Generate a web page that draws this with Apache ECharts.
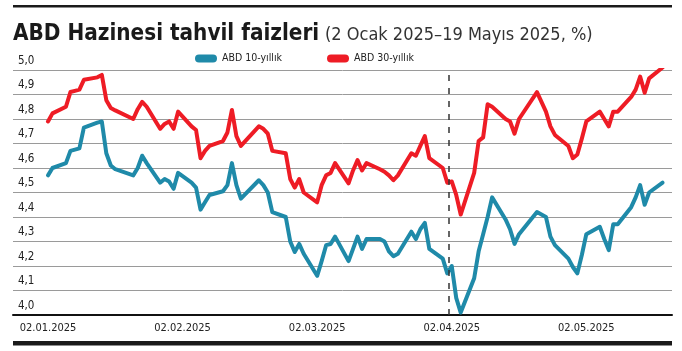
<!DOCTYPE html>
<html lang="tr">
<head>
    <meta charset="UTF-8">
    <title>ABD Hazinesi tahvil faizleri</title>
    <script src="https://cdn.jsdelivr.net/npm/echarts@6/dist/echarts.min.js"></script>
    <style>
        html, body { margin: 0; padding: 0; background: #fff; }
        #chart { width: 682px; height: 351px; }
    </style>
</head>
<body>
    <div id="chart"></div>
    <script>
        // trading days, 2 Jan - 19 May 2025
        var dates = [
            '2025-01-02','2025-01-03','2025-01-06','2025-01-07','2025-01-08','2025-01-09','2025-01-10','2025-01-13','2025-01-14','2025-01-15','2025-01-16','2025-01-17','2025-01-21','2025-01-22','2025-01-23','2025-01-24','2025-01-27','2025-01-28','2025-01-29','2025-01-30','2025-01-31',
            '2025-02-03','2025-02-04','2025-02-05','2025-02-06','2025-02-07','2025-02-10','2025-02-11','2025-02-12','2025-02-13','2025-02-14','2025-02-18','2025-02-19','2025-02-20','2025-02-21','2025-02-24','2025-02-25','2025-02-26','2025-02-27','2025-02-28',
            '2025-03-03','2025-03-04','2025-03-05','2025-03-06','2025-03-07','2025-03-10','2025-03-11','2025-03-12','2025-03-13','2025-03-14','2025-03-17','2025-03-18','2025-03-19','2025-03-20','2025-03-21','2025-03-24','2025-03-25','2025-03-26','2025-03-27','2025-03-28','2025-03-31',
            '2025-04-01','2025-04-02','2025-04-03','2025-04-04','2025-04-07','2025-04-08','2025-04-09','2025-04-10','2025-04-11','2025-04-14','2025-04-15','2025-04-16','2025-04-17','2025-04-21','2025-04-22','2025-04-23','2025-04-24','2025-04-25','2025-04-28','2025-04-29','2025-04-30',
            '2025-05-01','2025-05-02','2025-05-05','2025-05-06','2025-05-07','2025-05-08','2025-05-09','2025-05-12','2025-05-13','2025-05-14','2025-05-15','2025-05-16','2025-05-19'
        ];
        var tenYear = [
            4.57, 4.60, 4.62, 4.67, 4.675, 4.68, 4.765, 4.785, 4.79, 4.66, 4.61, 4.595, 4.57, 4.60, 4.65, 4.62, 4.54, 4.555, 4.545, 4.515, 4.58,
            4.54, 4.52, 4.43, 4.46, 4.49, 4.505, 4.53, 4.62, 4.53, 4.475, 4.55, 4.53, 4.50, 4.42, 4.40, 4.30, 4.257, 4.29, 4.25,
            4.16, 4.22, 4.285, 4.29, 4.32, 4.22, 4.27, 4.32, 4.27, 4.31, 4.31, 4.30, 4.26, 4.24, 4.25, 4.34, 4.31, 4.35, 4.376, 4.27, 4.23,
            4.17, 4.20, 4.07, 4.01, 4.15, 4.26, 4.33, 4.40, 4.48, 4.39, 4.35, 4.29, 4.33, 4.42, 4.41, 4.40, 4.32, 4.285, 4.23, 4.196, 4.17,
            4.245, 4.33, 4.36, 4.31, 4.265, 4.37, 4.37, 4.44, 4.48, 4.53, 4.45, 4.50, 4.54
        ];
        var thirtyYear = [
            4.79, 4.823, 4.85, 4.91, 4.915, 4.92, 4.96, 4.97, 4.98, 4.877, 4.845, 4.835, 4.80, 4.84, 4.87, 4.85, 4.76, 4.78, 4.79, 4.76, 4.83,
            4.77, 4.755, 4.64, 4.67, 4.69, 4.71, 4.745, 4.837, 4.73, 4.69, 4.77, 4.76, 4.74, 4.67, 4.66, 4.555, 4.52, 4.555, 4.50,
            4.46, 4.53, 4.57, 4.58, 4.62, 4.537, 4.59, 4.632, 4.59, 4.62, 4.595, 4.585, 4.57, 4.55, 4.57, 4.66, 4.65, 4.69, 4.73, 4.64, 4.60,
            4.54, 4.545, 4.49, 4.41, 4.58, 4.71, 4.725, 4.86, 4.85, 4.80, 4.79, 4.74, 4.80, 4.91, 4.87, 4.83, 4.77, 4.735, 4.69, 4.64, 4.655,
            4.72, 4.79, 4.83, 4.80, 4.77, 4.83, 4.83, 4.89, 4.92, 4.973, 4.907, 4.966, 5.01
        ];
        var seriesNames = ['ABD 10-yıllık', 'ABD 30-yıllık'];
        var xTickLabels = ['02.01.2025', '02.02.2025', '02.03.2025', '02.04.2025', '02.05.2025'];
        var yTickLabels = ['4,0', '4,1', '4,2', '4,3', '4,4', '4,5', '4,6', '4,7', '4,8', '4,9', '5,0'];
        var markerDay = 89.3; // dashed line, start of April

        var narrow = "'DejaVu Sans Condensed', 'DejaVu Sans', sans-serif";

        // days since 2 Jan 2025
        function dayNum(s) {
            var p = s.split('-').map(Number);
            return (Date.UTC(p[0], p[1] - 1, p[2]) - Date.UTC(2025, 0, 2)) / 86400000;
        }
        function pairs(values) {
            return values.map(function (v, i) { return [dayNum(dates[i]), v]; });
        }

        var pill = 'path://M4,0 L18,0 A4,4 0 0 1 18,8 L4,8 A4,4 0 0 1 4,0 Z';

        var myChart = echarts.init(document.getElementById('chart'), null, { renderer: 'canvas' });
        var option = {
            animation: false,
            backgroundColor: '#fff',
            title: [
                {
                    text: 'ABD Hazinesi tahvil faizleri',
                    left: 8, top: 18,
                    textStyle: { fontFamily: narrow, fontSize: 22.3, fontWeight: 'bold', color: '#1a1a1a' }
                },
                {
                    text: '(2 Ocak 2025–19 Mayıs 2025, %)',
                    left: 320, top: 21.5,
                    textStyle: { fontFamily: narrow, fontSize: 18, fontWeight: 'normal', color: '#333' }
                }
            ],
            legend: {
                left: 190, top: 48,
                itemWidth: 22, itemHeight: 8, itemGap: 45,
                icon: pill,
                textStyle: { fontFamily: narrow, fontSize: 10.5, color: '#222' },
                data: seriesNames
            },
            graphic: [
                { type: 'rect', shape: { x: 13, y: 5, width: 659, height: 2.5 }, style: { fill: '#1a1a1a' } },
                { type: 'rect', shape: { x: 13, y: 341, width: 659, height: 4.5 }, style: { fill: '#1a1a1a' } }
            ],
            grid: { left: 13, right: 10, top: 70, bottom: 36, outerBoundsMode: 'none' },
            xAxis: {
                type: 'value',
                min: -7.8, max: 139.1,
                axisLine: { show: true, onZero: false, lineStyle: { color: '#111', width: 2 } },
                axisTick: { show: false },
                splitLine: { show: false },
                axisLabel: {
                    customValues: xTickLabels.map(function (s, i) { return i * 30; }),
                    formatter: function (v) { return xTickLabels[Math.round(v / 30)]; },
                    fontFamily: narrow, fontSize: 11, color: '#222', margin: 8
                }
            },
            yAxis: {
                type: 'value',
                min: 4.0, max: 5.0, interval: 0.1,
                axisLine: { show: false },
                axisTick: { show: false },
                splitLine: { lineStyle: { color: '#9a9a9a', width: 1 } },
                axisLabel: {
                    inside: true,
                    margin: 5,
                    verticalAlign: 'bottom',
                    padding: [0, 0, 3, 0],
                    formatter: function (v) { return yTickLabels[Math.round((v - 4) * 10)]; },
                    fontFamily: narrow, fontSize: 11.5, color: '#222'
                }
            },
            series: [
                {
                    name: seriesNames[0],
                    type: 'line',
                    data: pairs(tenYear),
                    symbol: 'none',
                    color: '#1f8aa9',
                    lineStyle: { width: 4, join: 'round', cap: 'round' },
                    markLine: {
                        silent: true,
                        symbol: 'none',
                        label: { show: false },
                        lineStyle: { color: '#333', width: 1.5, type: [6, 7] },
                        data: [{ xAxis: markerDay }]
                    }
                },
                {
                    name: seriesNames[1],
                    type: 'line',
                    data: pairs(thirtyYear),
                    symbol: 'none',
                    color: '#ee1c25',
                    lineStyle: { width: 4, join: 'round', cap: 'round' }
                }
            ]
        };
        myChart.setOption(option);
    </script>
</body>
</html>
